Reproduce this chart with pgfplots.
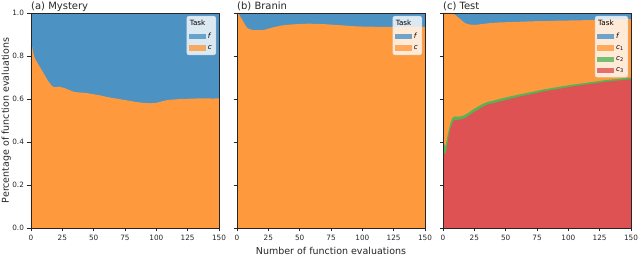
\documentclass[border=0pt]{standalone}
\usepackage{pgfplots}
\pgfplotsset{compat=1.18}
\usepackage{fontspec}
\setmainfont{DejaVu Sans}
\definecolor{cf}{HTML}{4C92C3}
\definecolor{cc}{HTML}{FF993E}
\definecolor{cg}{HTML}{56B356}
\definecolor{cr}{HTML}{DE5253}
\definecolor{spine}{HTML}{262626}

\pgfplotstableread{
x c
0 0.85
1 0.84
2 0.81
3 0.79
4 0.78
5 0.77
6 0.76
7 0.75
8 0.74
9 0.73
10 0.72
11 0.71
12 0.70
13 0.69
14 0.68
15 0.675
16 0.665
17 0.66
18 0.656
19 0.655
20 0.655
22 0.658
24 0.655
26 0.652
28 0.648
30 0.643
32 0.638
35 0.632
40 0.630
45 0.627
50 0.622
55 0.617
60 0.610
65 0.605
70 0.600
75 0.595
80 0.590
85 0.585
90 0.582
95 0.580
100 0.582
105 0.590
110 0.596
115 0.598
120 0.600
125 0.601
130 0.602
135 0.603
140 0.603
145 0.602
150 0.603
}\mystery

\pgfplotstableread{
x c
0 1.0
1 1.0
2 0.99
3 0.98
4 0.97
5 0.96
6 0.95
7 0.94
8 0.932
9 0.928
10 0.925
12 0.922
14 0.92
16 0.92
18 0.92
20 0.921
22 0.922
25 0.927
28 0.932
31 0.936
35 0.941
40 0.945
45 0.947
50 0.949
55 0.950
60 0.950
65 0.949
70 0.948
75 0.946
80 0.944
85 0.942
90 0.940
95 0.938
100 0.937
110 0.936
120 0.936
130 0.936
140 0.936
148 0.935
150 0.935
}\branin

\pgfplotstableread{
x cthree ctwo cone
0 0.34 0.40 1.0
1 0.35 0.39 1.0
2 0.34 0.38 1.0
3 0.37 0.41 1.0
4 0.41 0.44 1.0
5 0.44 0.465 1.0
6 0.465 0.49 1.0
7 0.48 0.505 0.998
8 0.495 0.515 0.995
9 0.50 0.518 0.993
10 0.502 0.518 0.99
12 0.503 0.518 0.98
14 0.505 0.519 0.97
16 0.508 0.522 0.96
18 0.512 0.528 0.952
20 0.52 0.535 0.948
22 0.528 0.543 0.946
25 0.54 0.555 0.945
28 0.55 0.565 0.946
30 0.558 0.572 0.948
33 0.567 0.580 0.950
36 0.575 0.587 0.952
40 0.580 0.592 0.954
45 0.588 0.600 0.956
50 0.595 0.607 0.957
55 0.603 0.614 0.958
60 0.610 0.620 0.959
65 0.616 0.626 0.960
70 0.622 0.632 0.961
75 0.628 0.638 0.962
80 0.635 0.644 0.962
85 0.640 0.649 0.963
90 0.645 0.654 0.964
95 0.650 0.659 0.964
100 0.655 0.664 0.965
105 0.660 0.668 0.966
110 0.664 0.672 0.966
115 0.668 0.676 0.967
120 0.672 0.680 0.968
125 0.676 0.684 0.968
130 0.680 0.688 0.969
135 0.683 0.691 0.970
140 0.686 0.694 0.970
145 0.689 0.697 0.971
150 0.692 0.700 0.972
}\test

\pgfplotsset{
  panel/.style={
    scale only axis, width=188pt, height=215pt,
    anchor=south west,
    xmin=0, xmax=150, ymin=0, ymax=1,
    xtick={0,25,...,150}, ytick={0,0.2,0.4,0.6,0.8,1.0},
    tick align=outside, xtick pos=left, ytick pos=left,
    major tick length=3.5pt,
    axis line style={spine, line width=0.6pt},
    every tick/.style={spine, line width=0.6pt},
    tick label style={font=\fontsize{7.3}{8}\selectfont, text=spine},
    /pgf/number format/assume math mode=true,
    yticklabel style={/pgf/number format/.cd, fixed, fixed zerofill, precision=1},
    axis on top,
    title style={at={(axis description cs:0,1)}, anchor=base west, inner sep=0pt, yshift=-2.5pt, font=\fontsize{10}{12}\selectfont, text=spine},
    legend image code/.code={\fill[##1, sharp corners] (0pt,-2.7pt) rectangle (17pt,2.7pt);},
    legend cell align=left,
    legend style={at={(axis description cs:1,1)}, anchor=north east, xshift=-3pt, yshift=-3pt,
      draw=black!15, fill=white, fill opacity=0.8, text opacity=1, rounded corners=2pt,
      font=\fontsize{7.2}{8}\selectfont, inner sep=2pt,
      row sep=1.6pt, /tikz/every even column/.append style={column sep=3.5pt}},
  }
}

\begin{document}
\begin{tikzpicture}
\useasboundingbox (0,0) rectangle (640pt,264pt);

\begin{axis}[panel, at={(31pt,36pt)}, title={(a) Mystery},
  ylabel={Percentage of function evaluations},
  ylabel style={at={(axis description cs:0,0.5)}, anchor=base, yshift=22pt, font=\fontsize{9.5}{10}\selectfont, text=spine}]
\addlegendimage{empty legend}\addlegendentry{\hspace{-18pt}Task}
\addplot[fill=cf, draw=none] coordinates {(0,1) (150,1)} \closedcycle;
\addlegendentry{\textit{f}}
\addplot[fill=cc, draw=none] table[x=x, y=c] {\mystery} \closedcycle;
\addlegendentry{\textit{c}}
\end{axis}

\begin{axis}[panel, at={(237pt,36pt)}, title={(b) Branin}, yticklabels={},
  xlabel={Number of function evaluations},
  xlabel style={at={(axis description cs:0.5,0)}, anchor=base, yshift=-27pt, font=\fontsize{9.5}{10}\selectfont, text=spine}]
\addlegendimage{empty legend}\addlegendentry{\hspace{-18pt}Task}
\addplot[fill=cf, draw=none] coordinates {(0,1) (150,1)} \closedcycle;
\addlegendentry{\textit{f}}
\addplot[fill=cc, draw=none] table[x=x, y=c] {\branin} \closedcycle;
\addlegendentry{\textit{c}}
\end{axis}

\begin{axis}[panel, at={(443pt,36pt)}, title={(c) Test}, yticklabels={}]
\addlegendimage{empty legend}\addlegendentry{\hspace{-18pt}Task}
\addplot[fill=cf, draw=none] coordinates {(0,1) (150,1)} \closedcycle;
\addlegendentry{\textit{f}}
\addplot[fill=cc, draw=none] table[x=x, y=cone] {\test} \closedcycle;
\addlegendentry{\textit{c}\textsubscript{1}}
\addplot[fill=cg, draw=none] table[x=x, y=ctwo] {\test} \closedcycle;
\addlegendentry{\textit{c}\textsubscript{2}}
\addplot[fill=cr, draw=none] table[x=x, y=cthree] {\test} \closedcycle;
\addlegendentry{\textit{c}\textsubscript{3}}
\end{axis}
\end{tikzpicture}
\end{document}
